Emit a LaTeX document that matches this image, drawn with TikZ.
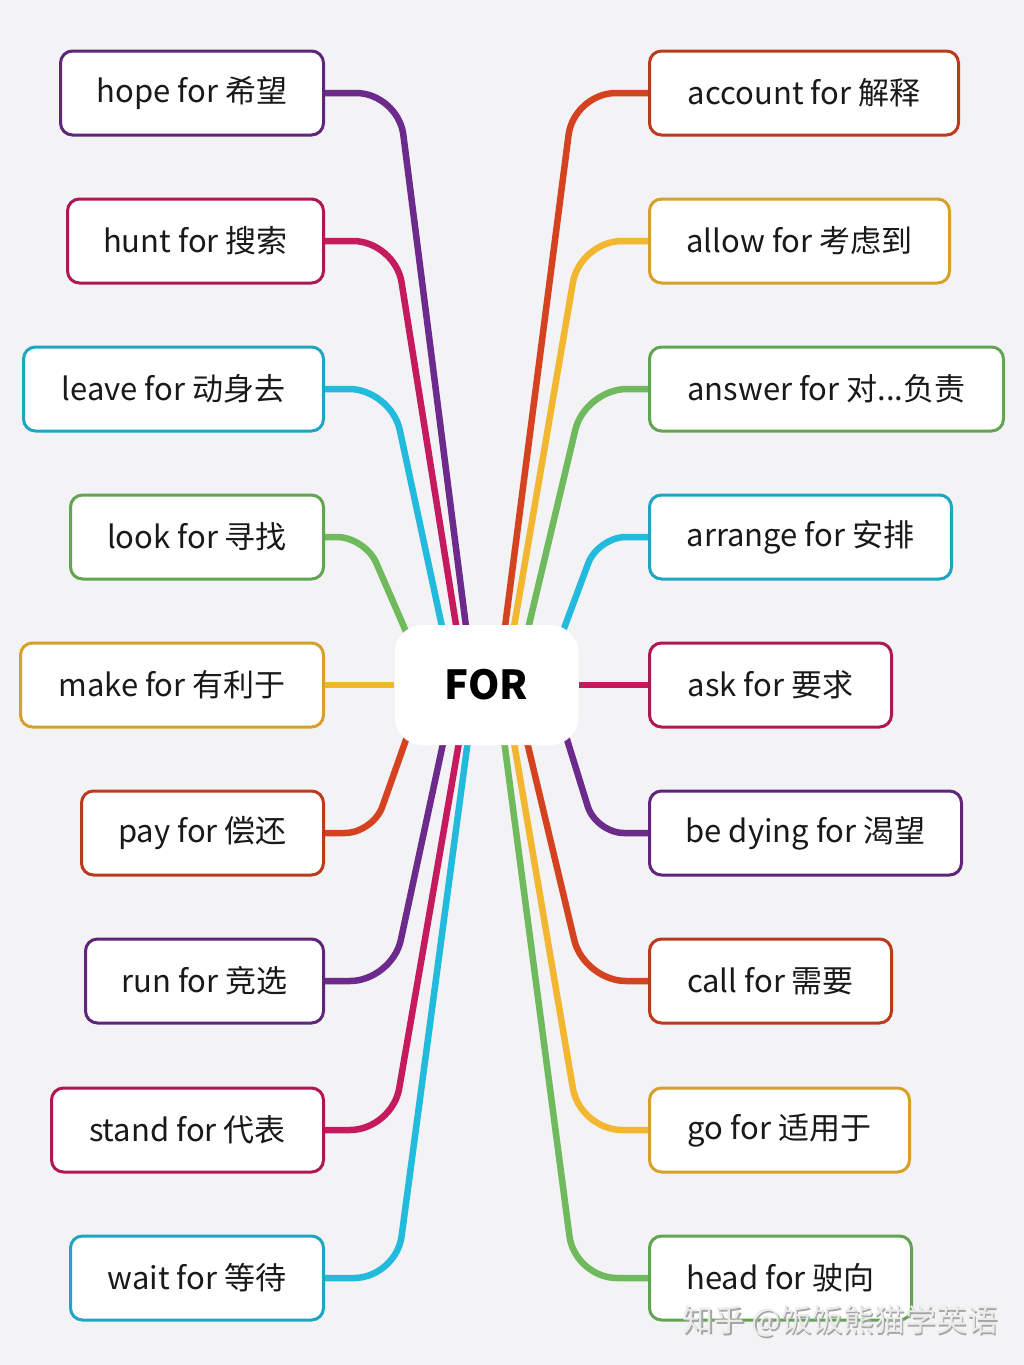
\documentclass[tikz,border=0pt]{standalone}
\usepackage{fontspec}
\setmainfont{Noto Sans CJK SC}
\pgfdeclarelayer{bg}
\pgfsetlayers{bg,main}
\definecolor{cpurple}{HTML}{6C2A8C}
\definecolor{ccrimson}{HTML}{C61A5E}
\definecolor{ccyan}{HTML}{22BBDD}
\definecolor{cgreen}{HTML}{6FBA5C}
\definecolor{cyellow}{HTML}{F3B630}
\definecolor{cred}{HTML}{D4421F}
\definecolor{bgcol}{HTML}{F3F2F4}
\begin{document}
\begin{tikzpicture}[x=1pt,y=-1pt,
  box/.style={draw=#1!88!black, line width=3pt, rounded corners=12pt, fill=white,
    minimum height=84pt, inner sep=0pt, text=black!90,
    font=\fontsize{31}{36}\selectfont},
  lbox/.style={box=#1, anchor=east},
  rbox/.style={box=#1, anchor=west},
  link/.style={draw=#1, line width=6.5pt, rounded corners=42pt},
  slink/.style={draw=#1, line width=6.5pt, rounded corners=28pt},
  hub/.style={fill=white, rounded corners=28pt, minimum width=184pt,
    minimum height=120pt, font=\fontsize{40}{48}\selectfont\bfseries, text=black}]

\useasboundingbox (0,0) rectangle (1024,1365);

% centre
\node[hub] (for) at (486.5,685) {FOR};

% left boxes
\node[lbox=cpurple,  minimum width=263pt] (hope)  at (325,93)   {hope for 希望};
\node[lbox=ccrimson, minimum width=256pt] (hunt)  at (325,241)  {hunt for 搜索};
\node[lbox=ccyan,    minimum width=300pt] (leave) at (325,389)  {leave for 动身去};
\node[lbox=cgreen,   minimum width=253pt] (look)  at (325,537)  {look for 寻找};
\node[lbox=cyellow,  minimum width=303pt] (make)  at (325,685)  {make for 有利于};
\node[lbox=cred,     minimum width=242pt] (pay)   at (325,833)  {pay for 偿还};
\node[lbox=cpurple,  minimum width=238pt] (run)   at (325,981)  {run for 竞选};
\node[lbox=ccrimson, minimum width=272pt] (stand) at (325,1130) {stand for 代表};
\node[lbox=ccyan,    minimum width=253pt] (wait)  at (325,1278) {wait for 等待};

% right boxes
\node[rbox=cred,     minimum width=309pt] (account) at (648,93)   {account for 解释};
\node[rbox=cyellow,  minimum width=300pt] (allow)   at (648,241)  {allow for 考虑到};
\node[rbox=cgreen,   minimum width=354pt] (answer)  at (648,389)  {answer for 对...负责};
\node[rbox=ccyan,    minimum width=302pt] (arrange) at (648,537)  {arrange for 安排};
\node[rbox=ccrimson, minimum width=242pt] (ask)     at (648,685)  {ask for 要求};
\node[rbox=cpurple,  minimum width=312pt] (dying)   at (648,833)  {be dying for 渴望};
\node[rbox=cred,     minimum width=242pt] (call)    at (648,981)  {call for 需要};
\node[rbox=cyellow,  minimum width=260pt] (go)      at (648,1130) {go for 适用于};
\node[rbox=cgreen,   minimum width=262pt] (head)    at (648,1278) {head for 驶向};

% free ends inside the centre node
\coordinate (ehope) at (469,650);
\coordinate (ehunt) at (460,650);
\coordinate (eleave) at (447,650);
\coordinate (elook) at (414,650);
\coordinate (eaccount) at (502,650);
\coordinate (eallow) at (510,650);
\coordinate (eanswer) at (523,650);
\coordinate (earrange) at (556,650);
\coordinate (epay) at (413,720);
\coordinate (erun) at (447,725);
\coordinate (estand) at (462,725);
\coordinate (ewait) at (470,725);
\coordinate (edying) at (561,720);
\coordinate (ecall) at (523,725);
\coordinate (ego) at (511,725);
\coordinate (ehead) at (502,725);

\begin{pgfonlayer}{bg}
\fill[bgcol] (0,0) rectangle (1024,1365);
\draw[link=cpurple]  (hope.east)  -- (398,93)   -- (ehope);
\draw[link=ccrimson] (hunt.east)  -- (395,241)  -- (ehunt);
\draw[link=ccyan]    (leave.east) -- (391,389)  -- (eleave);
\draw[slink=cgreen]  (look.east)  -- (365,537)  -- (elook);
\draw[draw=cyellow, line width=6.5pt] (make.east) -- (for.west);
\draw[slink=cred]    (pay.east)   -- (373,833)  -- (epay);
\draw[link=cpurple]  (run.east)   -- (392,981)  -- (erun);
\draw[link=ccrimson] (stand.east) -- (392,1130) -- (estand);
\draw[link=ccyan]    (wait.east)  -- (396,1278) -- (ewait);

\draw[link=cred]     (account.west) -- (574,93)   -- (eaccount);
\draw[link=cyellow]  (allow.west)   -- (580,241)  -- (eallow);
\draw[link=cgreen]   (answer.west)  -- (585,389)  -- (eanswer);
\draw[slink=ccyan]   (arrange.west) -- (598,537)  -- (earrange);
\draw[draw=ccrimson, line width=6.5pt] (ask.west) -- (for.east);
\draw[slink=cpurple] (dying.west)   -- (596,833)  -- (edying);
\draw[link=cred]     (call.west)    -- (584,981)  -- (ecall);
\draw[link=cyellow]  (go.west)      -- (580,1130) -- (ego);
\draw[link=cgreen]   (head.west)    -- (575,1278) -- (ehead);
\end{pgfonlayer}

% watermark
\node[text=black!35, font=\fontsize{31}{36}\selectfont] (wm1) at (842,1323) {知乎 @饭饭熊猫学英语};
\node[text=white!92!black, font=\fontsize{31}{36}\selectfont] (wm2) at (840.5,1321.5) {知乎 @饭饭熊猫学英语};
\end{tikzpicture}
\end{document}
